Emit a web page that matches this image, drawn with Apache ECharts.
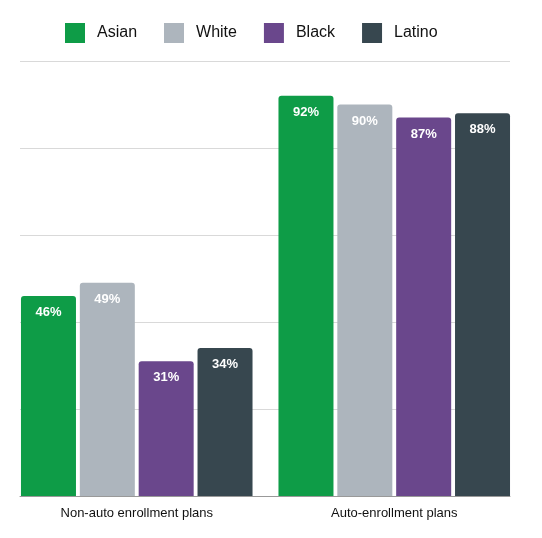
<!doctype html>
<html>
<head>
    <meta charset="utf-8">
    <title>Enrollment by race</title>
    <script src="https://cdn.jsdelivr.net/npm/echarts@6/dist/echarts.min.js"></script>
    <style>
        html, body { margin: 0; padding: 0; background: #fff; }
    </style>
</head>
<body>
    <div id="main" style="width:542px;height:538px;"></div>
    <script type="text/javascript">
        var chart = echarts.init(document.getElementById('main'));

        var categories = ['Non-auto enrollment plans', 'Auto-enrollment plans'];
        var groups = ['Asian', 'White', 'Black', 'Latino'];
        var asian = [46, 92];
        var white = [49, 90];
        var black = [31, 87];
        var latino = [34, 88];
        var colors = ['#0e9c47', '#adb5bd', '#6a478c', '#37474f'];

        var values = [asian, white, black, latino];

        var series = groups.map(function (name, i) {
            return {
                name: name,
                type: 'bar',
                xAxisIndex: 0,
                yAxisIndex: 0,
                zlevel: 1,
                barWidth: 55,
                barGap: '7%',
                itemStyle: { color: colors[i], borderRadius: [3, 3, 0, 0] },
                label: {
                    show: true,
                    position: 'insideTop',
                    distance: 10,
                    color: '#fff',
                    fontWeight: 'bold',
                    fontSize: 13,
                    fontFamily: 'Liberation Sans, Arial, sans-serif',
                    formatter: '{c}%'
                },
                data: values[i]
            };
        });

        var option = {
            animation: false,
            textStyle: { fontFamily: 'Liberation Sans, Arial, sans-serif' },
            legend: {
                top: 18,
                left: 60,
                itemWidth: 20,
                itemHeight: 20,
                itemGap: 27,
                icon: 'rect',
                textStyle: { fontSize: 16, color: '#111', padding: [0, 0, 0, 7] },
                data: groups
            },
            // grid 0 holds the bars, grid 1 only draws the horizontal lines
            grid: [
                { left: 8, right: 19, top: 61, bottom: 42 },
                { left: 20, right: 32, top: 61, bottom: 42 }
            ],
            xAxis: [{
                gridIndex: 0,
                type: 'category',
                data: categories,
                axisTick: { show: false },
                axisLine: { show: false },
                axisLabel: { fontSize: 13, color: '#111', margin: 11 }
            }, {
                gridIndex: 1,
                type: 'category',
                data: categories,
                axisTick: { show: false },
                axisLabel: { show: false },
                axisLine: { show: true, lineStyle: { color: '#999', width: 1 } }
            }],
            yAxis: [{
                gridIndex: 0,
                type: 'value',
                min: 0,
                max: 100,
                interval: 20,
                axisLabel: { show: false },
                splitLine: { show: false },
                axisLine: { show: false }
            }, {
                gridIndex: 1,
                type: 'value',
                min: 0,
                max: 100,
                interval: 20,
                axisLabel: { show: false },
                axisLine: { show: false },
                splitLine: { show: true, lineStyle: { color: '#d9d9d9' } }
            }],
            series: series
        };

        chart.setOption(option);
    </script>
</body>
</html>
